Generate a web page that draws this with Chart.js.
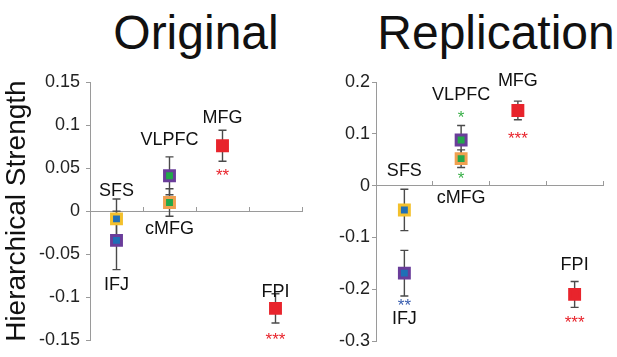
<!DOCTYPE html>
<html lang="en">
<head>
  <meta charset="utf-8">
  <title>Hierarchical Strength - Original vs Replication</title>
  <script src="https://cdn.jsdelivr.net/npm/chart.js"></script>
  <style>
    body { margin: 0; background: #fff; }
    .panel { position: absolute; top: 0; height: 357px; }
    .panel-title {
      position: absolute; top: 5px;
      font: 48px "Liberation Sans", Arial, sans-serif; color: #111;
      white-space: nowrap; transform: translateX(-50%);
    }
  </style>
</head>
<body>
  <div class="panel-title" style="left:196px">Original</div>
  <div class="panel-title" style="left:496px">Replication</div>
  <div class="panel" style="left:0; width:312px"><canvas id="origChart"></canvas></div>
  <div class="panel" style="left:310px; width:307px"><canvas id="replChart"></canvas></div>

<script>
  // x slots (SFS/IFJ share one, VLPFC/cMFG share one)
  const slots = ['s1', 's2', 's3', 's4'];
  const regions = ['SFS', 'IFJ', 'VLPFC', 'cMFG', 'MFG', 'FPI'];
  const regionSlot = [0, 0, 1, 1, 2, 3];

  // Original study
  const origMean  = [-0.009, -0.034, 0.041, 0.010, 0.076, -0.113];
  const origErr   = [0.023, 0.034, 0.022, 0.016, 0.018, 0.017];
  const origStars = ['', '', '', '', '**', '***'];
  const origTicks = [-0.15, 0.15, 0.05];

  // Replication
  const replMean  = [-0.047, -0.169, 0.088, 0.052, 0.145, -0.210];
  const replErr   = [0.040, 0.044, 0.028, 0.017, 0.018, 0.025];
  const replStars = ['', '**', '*', '*', '***', '***'];
  const replTicks = [-0.3, 0.2, 0.1];

  // styles
  const fillColors   = ['#1f6fb6', '#1f6fb6', '#22a84a', '#22a84a', '#e8242c', '#e8242c'];
  const borderColors = ['#f3c02c', '#6a3d9a', '#6a3d9a', '#f0a050', '#e8242c', '#e8242c'];
  const starColors   = ['#e8242c', '#3a5fb0', '#3bb04a', '#3bb04a', '#e8242c', '#e8242c'];
  const FONT = '"Liberation Sans", Arial, sans-serif';
  const AXIS = '#9a9a9a';

  function marks(err, stars, labelDy, starDy) {
    return {
      id: 'marks',
      beforeDatasetsDraw(chart) {
        const ctx = chart.ctx, y = chart.scales.y;
        const meta = chart.getDatasetMeta(0);
        const pts = chart.data.datasets[0].data;
        ctx.save();
        ctx.strokeStyle = '#4a4a4a';
        ctx.lineWidth = 1.4;
        err.forEach((e, i) => {
          const px = meta.data[i].x;
          const top = y.getPixelForValue(pts[i].y + e);
          const bot = y.getPixelForValue(pts[i].y - e);
          ctx.beginPath();
          ctx.moveTo(px, top); ctx.lineTo(px, bot);
          ctx.moveTo(px - 4, top); ctx.lineTo(px + 4, top);
          ctx.moveTo(px - 4, bot); ctx.lineTo(px + 4, bot);
          ctx.stroke();
        });
        ctx.restore();
      },
      afterDatasetsDraw(chart) {
        const ctx = chart.ctx;
        const meta = chart.getDatasetMeta(0);
        ctx.save();
        ctx.textAlign = 'center';
        ctx.textBaseline = 'middle';
        regions.forEach((name, i) => {
          const p = meta.data[i];
          ctx.fillStyle = '#111';
          ctx.font = '18px ' + FONT;
          ctx.fillText(name, p.x, p.y + labelDy[i]);
          if (stars[i]) {
            ctx.fillStyle = starColors[i];
            ctx.font = '17px ' + FONT;
            ctx.fillText(stars[i], p.x, p.y + starDy[i] + 4);
          }
        });
        ctx.restore();
      }
    };
  }

  function makeChart(id, mean, err, stars, ticks, axisWidth, pad, tickFont, title, labelDy, starDy) {
    return new Chart(document.getElementById(id), {
      type: 'line',
      data: {
        labels: slots,
        datasets: [{
          data: mean.map((v, i) => ({ x: slots[regionSlot[i]], y: v })),
          showLine: false,
          pointStyle: 'rect',
          pointRadius: 7,
          pointHoverRadius: 7,
          pointBorderWidth: 3,
          pointBackgroundColor: fillColors,
          pointBorderColor: borderColors
        }]
      },
      options: {
        responsive: true,
        maintainAspectRatio: false,
        animation: false,
        layout: { padding: pad },
        plugins: { legend: { display: false }, tooltip: { enabled: false } },
        scales: {
          x: {
            type: 'category',
            offset: true,
            position: { y: 0 },
            border: { color: AXIS },
            grid: { offset: true, drawOnChartArea: false, tickLength: -5, color: AXIS },
            ticks: { display: false }
          },
          y: {
            min: ticks[0], max: ticks[1],
            afterFit(scale) { scale.width = axisWidth; },
            border: { color: AXIS },
            grid: { drawOnChartArea: false, tickLength: 4, color: AXIS },
            ticks: {
              stepSize: ticks[2], padding: tickFont.pad, color: '#222',
              font: { family: FONT, size: tickFont.size },
              callback: v => String(Math.round(v * 100) / 100)
            },
            title: {
              display: !!title, text: title, color: '#111', padding: 0,
              font: { family: FONT, size: 28 }
            }
          }
        }
      },
      plugins: [marks(err, stars, labelDy, starDy)]
    });
  }

  makeChart('origChart', origMean, origErr, origStars, origTicks, 90,
    { top: 82, bottom: 15, left: 0, right: 2 }, { size: 18, pad: 6 },
    'Hierarchical Strength',
    [-28, 45, -36, 27, -28, -16], [0, 0, 0, 0, 27, 28]);

  makeChart('replChart', replMean, replErr, replStars, replTicks, 66,
    { top: 82, bottom: 16, left: 0, right: 14 }, { size: 18, pad: 2 },
    '',
    [-38.5, 46, -45, 39, -29, -29], [0, 29, -25.5, 17, 25, 24.5]);
</script>
</body>
</html>
